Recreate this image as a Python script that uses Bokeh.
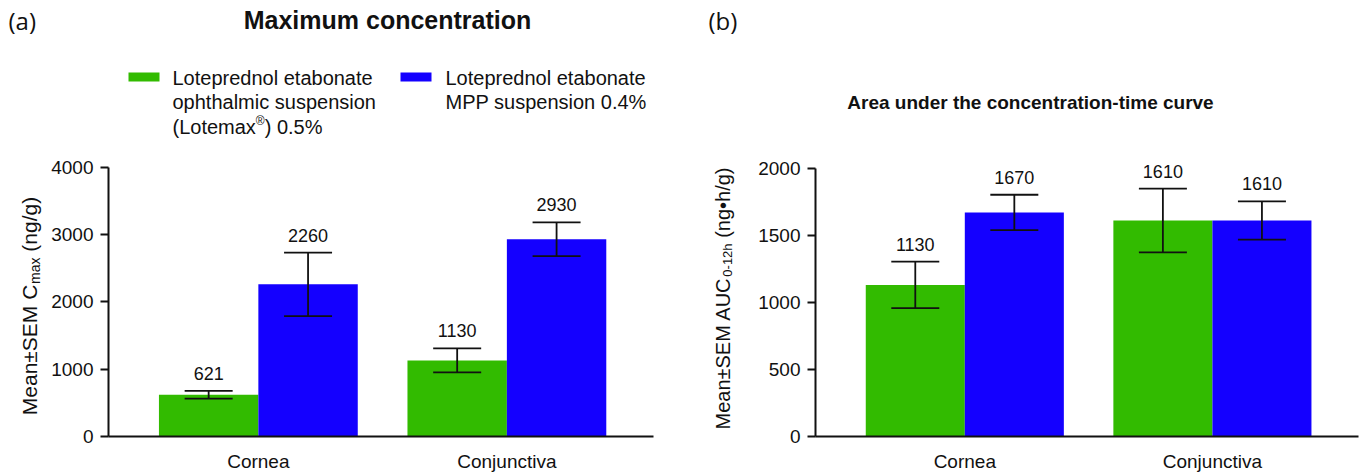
import math
from bokeh.plotting import figure
from bokeh.models import (ColumnDataSource, Range1d, FixedTicker, Label, LabelSet,
                          BoxAnnotation, Whisker, TeeHead)
from bokeh.layouts import row
from bokeh.embed import file_html
from bokeh.resources import INLINE
from bokeh.core.properties import value

# ---------------- data ----------------
categories = ["Cornea", "Conjunctiva"]
cmax_lotemax = [621, 1130]
cmax_lotemax_sem = [58, 178]
cmax_mpp = [2260, 2930]
cmax_mpp_sem = [471, 250]
auc_lotemax = [1130, 1610]
auc_lotemax_sem = [173, 238]
auc_mpp = [1670, 1610]
auc_mpp_sem = [132, 143]
cmax_ticks = [0, 1000, 2000, 3000, 4000]
auc_ticks = [0, 500, 1000, 1500, 2000]
lotemax_legend = ["Loteprednol etabonate", "ophthalmic suspension", "(Lotemax", "\u00ae", ") 0.5%"]
mpp_legend = ["Loteprednol etabonate", "MPP suspension 0.4%"]

GREEN = "#32bb00"
BLUE = "#1400ff"
INK = "#111111"
FONT = "Liberation Sans"
FIG_H = 474
FRAME_BOTTOM = 442
BAR_W = 0.4

ARIAL = {"M": 833, "e": 556, "a": 556, "n": 556, "\u00b1": 584, "S": 667, "E": 667, " ": 278,
         "C": 722, "m": 833, "x": 500, "(": 333, ")": 333, "g": 556, "/": 278, "A": 667,
         "U": 722, "0": 556, "-": 333, "1": 556, "2": 556, "h": 556, "\u2022": 350,
         "L": 556, "o": 556, "t": 278, "\u00ae": 737, ".": 278, "5": 556, "%": 889}


def tw(s, size):
    return sum(ARIAL.get(c, 556) for c in s) * size / 1000.0


def canvas_label(p, x, y, text, size, **kw):
    opts = dict(x=x, y=y, x_units="canvas", y_units="canvas", text=text,
                text_font=kw.pop("font", FONT), text_font_size=f"{size}px",
                text_color=kw.pop("color", INK), text_baseline=kw.pop("baseline", "middle"),
                text_align=kw.pop("align", "left"))
    opts.update(kw)
    p.add_layout(Label(**opts))


def strip(width):
    s = figure(width=width, height=FIG_H, output_backend="svg", toolbar_location=None,
               x_range=Range1d(0, 1), y_range=Range1d(0, 1),
               x_axis_location=None, y_axis_location=None,
               min_border_left=0, min_border_right=0, min_border_top=0, min_border_bottom=0)
    s.outline_line_color = None
    s.grid.visible = False
    return s


def make_panel(width, left, right, axis_top, ticks, green_vals, green_sem, blue_vals, blue_sem):
    ymax = ticks[-1]
    y_end = ymax * FRAME_BOTTOM / (FRAME_BOTTOM - axis_top)
    p = figure(width=width, height=FIG_H, output_backend="svg", toolbar_location=None,
               x_range=Range1d(0.397, 2.59), y_range=Range1d(0, y_end),
               min_border_left=left, min_border_right=right,
               min_border_top=0, min_border_bottom=FIG_H - FRAME_BOTTOM)
    p.outline_line_color = None
    p.grid.visible = False

    xs = list(range(1, len(categories) + 1))
    gx = [x - BAR_W / 2 for x in xs]
    bx = [x + BAR_W / 2 for x in xs]
    p.vbar(x=gx, top=green_vals, width=BAR_W, fill_color=GREEN, line_color=None)
    p.vbar(x=bx, top=blue_vals, width=BAR_W, fill_color=BLUE, line_color=None)

    src = ColumnDataSource(dict(
        x=gx + bx,
        upper=[v + s for v, s in zip(green_vals, green_sem)] + [v + s for v, s in zip(blue_vals, blue_sem)],
        lower=[v - s for v, s in zip(green_vals, green_sem)] + [v - s for v, s in zip(blue_vals, blue_sem)],
        label=[str(v) for v in green_vals + blue_vals]))
    head = dict(size=48, line_width=1.8, line_color=INK)
    p.add_layout(Whisker(source=src, base="x", upper="upper", lower="lower",
                         line_width=1.8, line_color=INK, level="annotation",
                         upper_head=TeeHead(**head), lower_head=TeeHead(**head)))
    p.add_layout(LabelSet(source=src, x="x", y="upper", text="label", y_offset=11,
                          text_align="center", text_baseline="alphabetic",
                          text_font=value(FONT), text_font_size="18px", text_color=INK))

    for ax in (p.xaxis[0], p.yaxis[0]):
        ax.axis_line_width = 2
        ax.axis_line_color = INK
        ax.major_label_text_font = FONT
        ax.major_label_text_font_size = "19px"
        ax.major_label_text_color = INK
        ax.minor_tick_line_color = None
    p.xaxis.ticker = FixedTicker(ticks=xs)
    p.xaxis.major_label_overrides = {x: c for x, c in zip(xs, categories)}
    p.xaxis.major_tick_line_color = None
    p.xaxis.major_label_standoff = 8
    p.yaxis.ticker = FixedTicker(ticks=ticks)
    p.yaxis.bounds = (0, ymax)
    p.yaxis.major_tick_out = 8
    p.yaxis.major_tick_in = 0
    p.yaxis.major_tick_line_width = 2
    p.yaxis.major_tick_line_color = INK
    p.yaxis.major_label_standoff = 7
    return p


def y_label(p, x, center, main, sub, tail, size=21, sub_size=14):
    gap = tw(" ", size)
    w1, w2, w3 = tw(main, size), tw(sub, sub_size), tw(tail, size)
    y0 = center + (w1 + w2 + gap + w3) / 2
    ang = math.pi / 2
    canvas_label(p, x, y0, main, size, angle=ang)
    canvas_label(p, x + 5, y0 - w1, sub, sub_size, angle=ang)
    canvas_label(p, x, y0 - w1 - w2 - gap, tail, size, angle=ang)


def swatch(p, l, r, t, b, color):
    p.add_layout(BoxAnnotation(left=l, right=r, top=t, bottom=b, left_units="canvas",
                               right_units="canvas", top_units="canvas", bottom_units="canvas",
                               fill_color=color, fill_alpha=1, line_color=None, level="annotation"))


# ---------------- panel (a) ----------------
sa = strip(48)
canvas_label(sa, 8, 20, "(a)", 24, font="Open Sans")
y_label(sa, 29, (169 + FRAME_BOTTOM) / 2, "Mean\u00b1SEM C", "max", "(ng/g)")

pa = make_panel(650, 60, 45, 169, cmax_ticks, cmax_lotemax, cmax_lotemax_sem, cmax_mpp, cmax_mpp_sem)
OA = 48
canvas_label(pa, 387 - OA, 19, "Maximum concentration", 25, align="center", text_font_style="bold")
swatch(pa, 128 - OA, 159 - OA, 72, 81, GREEN)
swatch(pa, 400 - OA, 431 - OA, 72, 81, BLUE)
canvas_label(pa, 172 - OA, 77, lotemax_legend[0], 20)
canvas_label(pa, 172 - OA, 101, lotemax_legend[1], 20)
canvas_label(pa, 172 - OA, 126, lotemax_legend[2], 20)
xr = 172 - OA + tw(lotemax_legend[2], 20)
canvas_label(pa, xr, 120, lotemax_legend[3], 12)
canvas_label(pa, xr + tw(lotemax_legend[3], 12), 126, lotemax_legend[4], 20)
canvas_label(pa, 445 - OA, 77, mpp_legend[0], 20)
canvas_label(pa, 445 - OA, 101, mpp_legend[1], 20)

# ---------------- panel (b) ----------------
sb = strip(52)
canvas_label(sb, 10, 20, "(b)", 24, font="Open Sans")
y_label(sb, 24, 298, "Mean\u00b1SEM AUC", "0-12h", "(ng\u2022h/g)", size=20, sub_size=13)

pb = make_panel(613, 65, 5, 170, auc_ticks, auc_lotemax, auc_lotemax_sem, auc_mpp, auc_mpp_sem)
OB = 750
canvas_label(pb, 1030 - OB, 102, "Area under the concentration-time curve", 19, align="center",
             text_font_style="bold")

layout = row(sa, pa, sb, pb)
open("out.html", "w").write(file_html(layout, INLINE))
